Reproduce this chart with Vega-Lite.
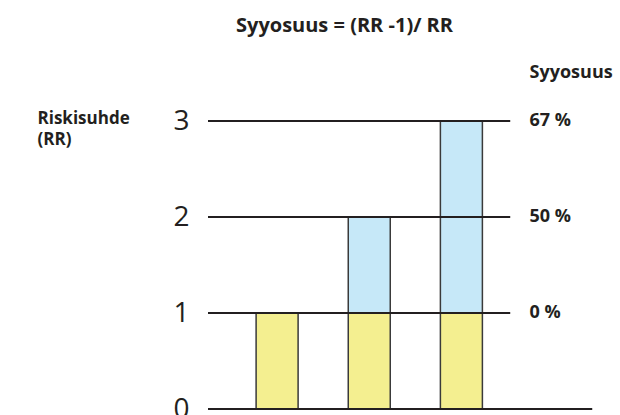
{
  "$schema": "https://vega.github.io/schema/vega-lite/v6.json",
  "autosize": {"type": "none"},
  "padding": {"left": 203, "top": 121, "right": 20, "bottom": 6},
  "width": 397,
  "height": 288,
  "background": "white",
  "config": {"view": {"stroke": null}, "font": "Open Sans"},
  "title": {"text": "Syyosuus = (RR -1)/ RR", "fontSize": 20, "fontWeight": "bold", "font": "Open Sans", "color": "#231f20", "anchor": "middle", "frame": "group", "dx": -57, "offset": 28},
  "datasets": {
    "bars": [
      {"rr": 1, "part": "perus", "lo": 0, "hi": 1},
      {"rr": 2, "part": "perus", "lo": 0, "hi": 1},
      {"rr": 3, "part": "perus", "lo": 0, "hi": 1},
      {"rr": 2, "part": "lisä", "lo": 1, "hi": 2},
      {"rr": 3, "part": "lisä", "lo": 1, "hi": 3}
    ],
    "lines": [
      {"level": 0, "from": 0.25, "to": 4.42},
      {"level": 1, "from": 0.25, "to": 3.53},
      {"level": 2, "from": 0.25, "to": 3.53},
      {"level": 3, "from": 0.25, "to": 3.53}
    ],
    "labels": [
      {"level": 1, "label": "0 %"},
      {"level": 2, "label": "50 %"},
      {"level": 3, "label": "67 %"},
      {"level": 3.5, "label": "Syyosuus"}
    ]
  },
  "encoding": {
    "y": {
      "type": "quantitative",
      "scale": {"domain": [0, 3], "nice": false, "zero": true},
      "axis": {
        "values": [0, 1, 2, 3],
        "domain": false, "ticks": false, "grid": false,
        "labelFontSize": 28, "labelFont": "Open Sans", "labelFontWeight": "normal", "labelColor": "#231f20", "labelPadding": 14,
        "title": ["Riskisuhde", "(RR)"],
        "titleAngle": 0, "titleAlign": "left", "titleBaseline": "alphabetic",
        "titleX": -166, "titleY": 2,
        "titleFontSize": 17, "titleFontWeight": "bold", "titleFont": "Open Sans", "titleColor": "#231f20", "titleLineHeight": 21
      }
    }
  },
  "layer": [
    {
      "data": {"name": "bars"},
      "mark": {"type": "bar", "size": 42, "stroke": "#3a3a3a", "strokeWidth": 1.5},
      "encoding": {
        "x": {"field": "rr", "type": "quantitative", "scale": {"domain": [0.25, 4.45], "nice": false, "zero": false}, "axis": null},
        "y": {"field": "lo"},
        "y2": {"field": "hi"},
        "color": {"field": "part", "type": "nominal", "scale": {"domain": ["perus", "lisä"], "range": ["#f4ef90", "#c6e8f8"]}, "legend": null}
      }
    },
    {
      "data": {"name": "lines"},
      "mark": {"type": "rule", "stroke": "#231f20", "strokeWidth": 2},
      "encoding": {
        "x": {"field": "from", "type": "quantitative"},
        "x2": {"field": "to"},
        "y": {"field": "level"}
      }
    },
    {
      "data": {"name": "labels"},
      "mark": {"type": "text", "align": "left", "baseline": "middle", "fontSize": 18, "fontWeight": "bold", "font": "Open Sans", "color": "#231f20"},
      "encoding": {
        "x": {"datum": 3.74, "type": "quantitative"},
        "y": {"field": "level"},
        "text": {"field": "label"}
      }
    }
  ]
}
